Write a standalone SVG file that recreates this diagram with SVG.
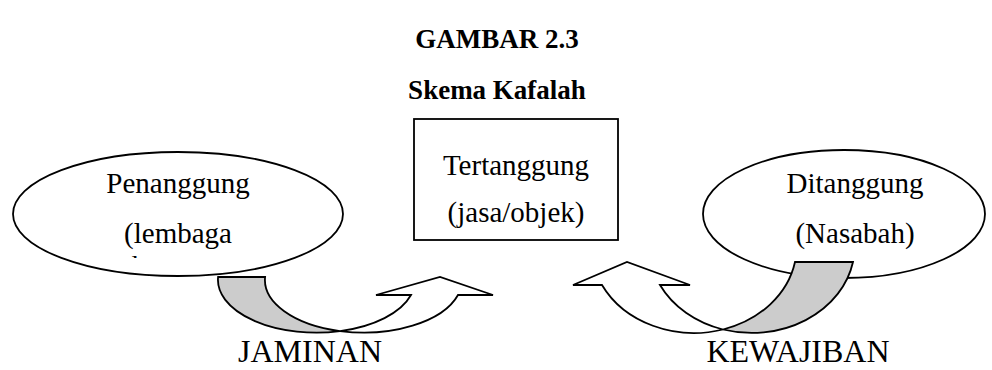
<svg xmlns="http://www.w3.org/2000/svg" width="992" height="370" viewBox="0 0 992 370">
  <defs>
    <style>
      .title { font-family: "Liberation Serif", "Times New Roman", serif; font-weight: bold; font-size: 27px; fill: #000; text-anchor: middle; }
      .body { font-family: "Liberation Serif", "Times New Roman", serif; font-size: 29px; fill: #000; text-anchor: middle; }
      .label { font-family: "Liberation Serif", "Times New Roman", serif; font-size: 32px; fill: #000; text-anchor: middle; }
      .outline { fill: #fff; stroke: #000; stroke-width: 1.8; }
      .band { fill: #cccccc; stroke: #000; stroke-width: 1.8; stroke-linejoin: miter; }
      .arrow { fill: #fff; stroke: #000; stroke-width: 1.8; stroke-linejoin: miter; }
    </style>
    <!-- only the top of the wrapped third line stays inside the ellipse -->
    <clipPath id="cut-line">
      <rect x="122" y="250" width="40" height="8"/>
    </clipPath>
  </defs>

  <rect width="992" height="370" fill="#fff"/>

  <text class="title" x="497" y="48">GAMBAR 2.3</text>
  <text class="title" x="497" y="99">Skema Kafalah</text>

  <!-- Tertanggung box -->
  <g id="tertanggung">
    <rect class="outline" x="414" y="119" width="204" height="121"/>
    <text class="body" x="516" y="175">Tertanggung</text>
    <text class="body" x="516" y="222">(jasa/objek)</text>
  </g>

  <!-- Penanggung ellipse -->
  <g id="penanggung">
    <ellipse class="outline" cx="178" cy="214" rx="165" ry="62"/>
    <text class="body" x="178" y="193">Penanggung</text>
    <text class="body" x="178" y="243">(lembaga</text>
    <text class="body" x="192" y="276" clip-path="url(#cut-line)">keuangan)</text>
  </g>

  <!-- Ditanggung ellipse -->
  <g id="ditanggung">
    <ellipse class="outline" cx="844" cy="214" rx="141" ry="64"/>
    <text class="body" x="855" y="193">Ditanggung</text>
    <text class="body" x="855" y="243">(Nasabah)</text>
  </g>

  <!-- curved arrows -->
  <g id="connectors">
    <g id="jaminan">
      <path class="band" d="M218.1,277 L265.1,277 A98.6,52.6 0 0 0 340,331.1 A98.6,52.6 0 0 1 218.1,277 Z"/>
      <path class="arrow" d="M340,331.1 A98.6,52.6 0 0 0 458,295 L493,295 L440,277 L376,295 L411,295 A98.6,52.6 0 0 1 340,331.1 Z"/>
      <text class="label" x="310" y="362">JAMINAN</text>
    </g>
    <g id="kewajiban">
      <path class="band" d="M795,262 L853,262 A103,87 0 0 1 723,329.5 A103,87 0 0 0 795,262 Z"/>
      <path class="arrow" d="M723,329.5 A103,87 0 0 1 602,285 L573,285 L627,262 L690,285 L660,285 A103,87 0 0 0 723,329.5 Z"/>
      <text class="label" x="798" y="362">KEWAJIBAN</text>
    </g>
  </g>
</svg>
